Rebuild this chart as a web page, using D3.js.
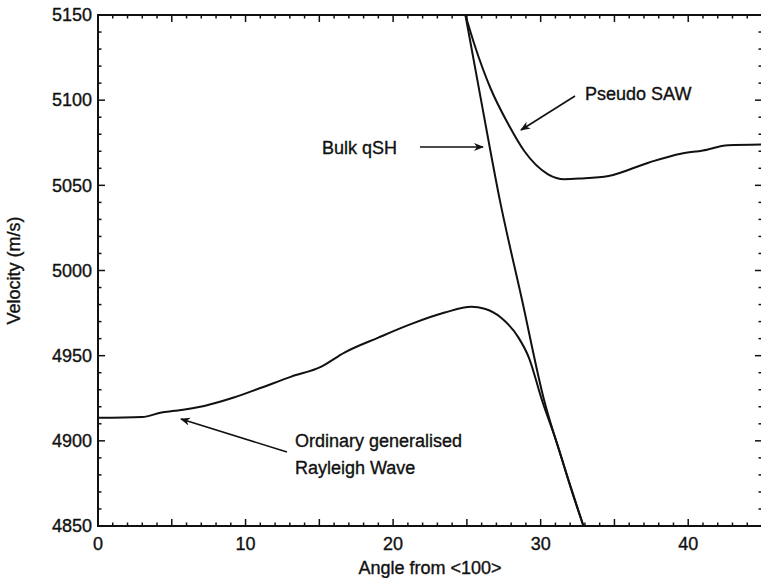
<!DOCTYPE html>
<html>
<head>
<meta charset="utf-8">
<script src="https://cdn.jsdelivr.net/npm/d3@7"></script>
<style>
	body { margin: 0; background: #fff; }
	svg { display: block; }
	text { font-family: "Liberation Sans", Arial, sans-serif; fill: #111; stroke: #111; stroke-width: 0.35px; }
</style>
</head>
<body>
<svg width="761" height="578"></svg>
<script>
// data: angle (deg from <100>) and velocity (m/s)
var rayleighAngle = [0, 3.0, 4.3, 5.2, 7.2, 9.2, 11.0, 13.1, 15.1, 16.7, 19.0, 21.2, 23.5, 25.3, 26.2, 27.3, 28.5, 29.2, 30.1, 31.05, 32.1, 32.9],
	rayleighVel = [4913.5, 4914, 4916.6, 4917.6, 4920.5, 4925.4, 4931, 4937.7, 4943.4, 4951.8, 4960.6, 4968.5, 4975.3, 4978.7, 4977.5, 4972.4, 4960.6, 4948.9, 4923.5, 4900, 4870.7, 4850];

var bulkAngle = [24.9, 25.96, 27.24, 28.73, 30.23, 31.45, 32.9],
	bulkVel = [5150, 5100, 5041, 4983, 4924, 4889, 4850];

var sawAngle = [24.9, 25.5, 26.6, 27.8, 28.9, 30.5, 31.6, 32.7, 34.6, 37.3, 39.5, 41.0, 42.7, 45.0],
	sawVel = [5150, 5133, 5107, 5086, 5070, 5056.5, 5053.6, 5054, 5055.5, 5063.3, 5068.6, 5070.5, 5073.5, 5074];

var xTicks = [0, 10, 20, 30, 40],
	yTicks = [4850, 4900, 4950, 5000, 5050, 5100, 5150];

var svg = d3.select("svg"),
	plotL = 98, plotR = 762, plotT = 15, plotB = 526;

var x = d3.scaleLinear().domain([0, 45]).range([plotL, plotR]),
	y = d3.scaleLinear().domain([4850, 5150]).range([plotB, plotT]);

function pts(a, v) {
	return a.map(function(d, i) { return [d, v[i]]; });
}

// frame
svg.append("rect")
	.attr("x", plotL).attr("y", plotT)
	.attr("width", plotR - plotL).attr("height", plotB - plotT)
	.attr("fill", "none").attr("stroke", "#111").attr("stroke-width", 2);

// ticks pointing inward on all four sides
var minorX = d3.range(0, 46, 1),
	minorY = d3.range(4850, 5151, 10);

var tk = svg.append("g").attr("stroke", "#111").attr("stroke-width", 1.5);

minorX.forEach(function(t) {
	var len = t % 5 === 0 ? 7 : 3.5;
	tk.append("line").attr("x1", x(t)).attr("x2", x(t)).attr("y1", plotB).attr("y2", plotB - len);
	tk.append("line").attr("x1", x(t)).attr("x2", x(t)).attr("y1", plotT).attr("y2", plotT + len);
});
minorY.forEach(function(t) {
	var len = t % 50 === 0 ? 7 : 3.5;
	tk.append("line").attr("y1", y(t)).attr("y2", y(t)).attr("x1", plotL).attr("x2", plotL + len);
	tk.append("line").attr("y1", y(t)).attr("y2", y(t)).attr("x1", plotR).attr("x2", plotR - len);
});

// tick labels
svg.append("g").selectAll("text")
	.data(xTicks)
	.enter().append("text")
	.attr("x", function(d) { return x(d); })
	.attr("y", 550)
	.attr("text-anchor", "middle")
	.attr("font-size", 18)
	.text(function(d) { return d; });

svg.append("g").selectAll("text")
	.data(yTicks)
	.enter().append("text")
	.attr("x", 92)
	.attr("y", function(d) { return y(d); })
	.attr("dy", "0.35em")
	.attr("text-anchor", "end")
	.attr("font-size", 18)
	.text(function(d) { return d; });

// axis titles
svg.append("text")
	.attr("x", (plotL + plotR) / 2)
	.attr("y", 574)
	.attr("text-anchor", "middle")
	.attr("font-size", 18)
	.text("Angle from <100>");

svg.append("text")
	.attr("transform", "translate(20," + (plotT + plotB) / 2 + ") rotate(-90)")
	.attr("text-anchor", "middle")
	.attr("font-size", 18)
	.text("Velocity (m/s)");

// curves
var line = d3.line()
	.x(function(d) { return x(d[0]); })
	.y(function(d) { return y(d[1]); })
	.curve(d3.curveMonotoneX);

[pts(rayleighAngle, rayleighVel), pts(bulkAngle, bulkVel), pts(sawAngle, sawVel)].forEach(function(p) {
	svg.append("path")
		.datum(p)
		.attr("d", line)
		.attr("fill", "none")
		.attr("stroke", "#111")
		.attr("stroke-width", 2);
});

// annotations
svg.append("defs").append("marker")
	.attr("id", "head")
	.attr("viewBox", "0 0 10 10")
	.attr("refX", 9).attr("refY", 5)
	.attr("markerWidth", 10).attr("markerHeight", 10)
	.attr("markerUnits", "userSpaceOnUse")
	.attr("orient", "auto")
	.append("path")
	.attr("d", "M0,1 L10,5 L0,9 L3,5 Z")
	.attr("fill", "#111");

function arrow(x1, y1, x2, y2) {
	svg.append("line")
		.attr("x1", x1).attr("y1", y1).attr("x2", x2).attr("y2", y2)
		.attr("stroke", "#111").attr("stroke-width", 1.6)
		.attr("marker-end", "url(#head)");
}

svg.append("text").attr("x", 585).attr("y", 100).attr("font-size", 18).text("Pseudo SAW");
arrow(575, 96, 521, 130);

svg.append("text").attr("x", 322).attr("y", 154).attr("font-size", 18).text("Bulk qSH");
arrow(420, 147, 483, 147);

svg.append("text").attr("x", 295).attr("y", 447).attr("font-size", 18).text("Ordinary generalised");
svg.append("text").attr("x", 295).attr("y", 474).attr("font-size", 18).text("Rayleigh Wave");
arrow(287, 452, 181, 419);
</script>
</body>
</html>
